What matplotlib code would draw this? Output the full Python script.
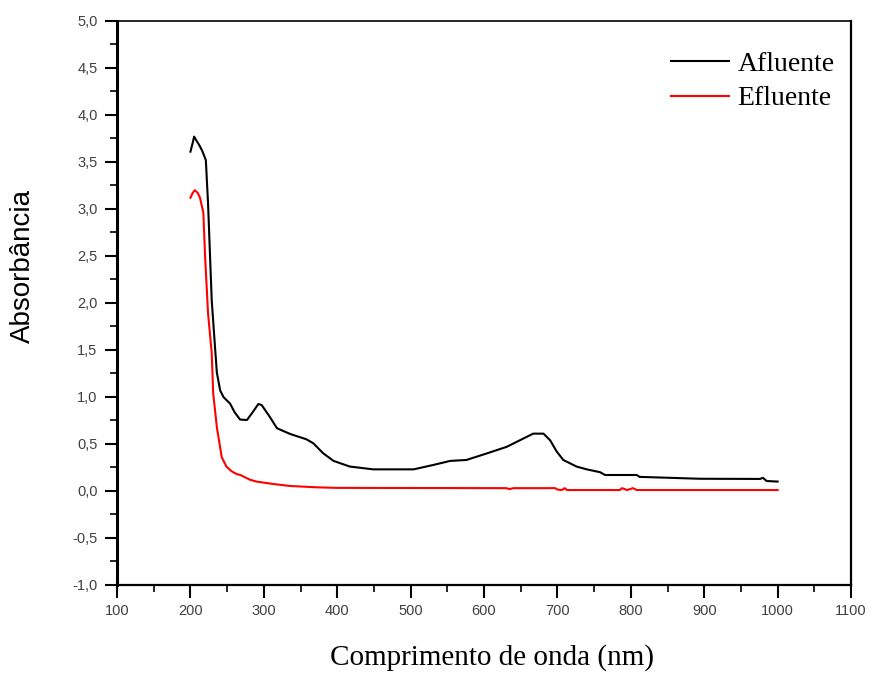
import matplotlib
matplotlib.use("Agg")
import matplotlib.pyplot as plt
from matplotlib.ticker import MultipleLocator, FuncFormatter

# Afluente (inlet) spectrum
wl_af = [200, 203, 205, 208, 212, 216, 221, 224, 229, 233.5, 236, 240.5, 245, 250, 254,
         260, 267.6, 277, 285, 292.5, 297, 308, 318, 336, 358, 367.5, 381, 395, 417,
         449, 504, 531, 554, 576, 604, 631, 649, 667, 681, 690, 699, 708, 726, 740,
         758, 765, 808, 812, 894, 976, 980, 985, 1000]
abs_af = [3.61, 3.70, 3.77, 3.73, 3.68, 3.62, 3.52, 3.06, 2.03, 1.53, 1.26, 1.07, 1.00,
          0.96, 0.93, 0.84, 0.76, 0.755, 0.84, 0.925, 0.915, 0.79, 0.667, 0.606, 0.55,
          0.507, 0.40, 0.32, 0.26, 0.23, 0.23, 0.277, 0.32, 0.33, 0.40, 0.47, 0.54,
          0.61, 0.61, 0.54, 0.42, 0.33, 0.26, 0.23, 0.20, 0.17, 0.17, 0.15, 0.13,
          0.128, 0.14, 0.106, 0.10]

# Efluente (outlet) spectrum
wl_ef = [200, 203, 206, 210, 213, 217.6, 220, 224, 229, 231, 236, 242.6, 249, 256, 263,
         268, 281, 290, 313, 336, 372, 400, 630, 635, 640, 697, 700, 706, 710, 713,
         785, 788, 795, 803, 808, 1000]
abs_ef = [3.12, 3.17, 3.20, 3.17, 3.12, 2.96, 2.49, 1.89, 1.47, 1.04, 0.68, 0.36, 0.26,
          0.21, 0.18, 0.17, 0.12, 0.10, 0.074, 0.053, 0.039, 0.033, 0.03, 0.02, 0.03,
          0.03, 0.015, 0.01, 0.03, 0.01, 0.01, 0.03, 0.01, 0.03, 0.01, 0.01]

series_labels = ["Afluente", "Efluente"]
x_label = "Comprimento de onda (nm)"
y_label = "Absorbância"

fig = plt.figure(figsize=(8.74, 6.73), dpi=100)
ax = fig.add_axes([0.1339, 0.1308, 0.9737 - 0.1339, 0.9688 - 0.1308])

ax.plot(wl_af, abs_af, color="black", lw=1.5, label=series_labels[0])
ax.plot(wl_ef, abs_ef, color="#ff0000", lw=1.5, label=series_labels[1])

ax.set_xlim(100, 1100)
ax.set_ylim(-1.0, 5.0)
ax.xaxis.set_major_locator(MultipleLocator(100))
ax.xaxis.set_minor_locator(MultipleLocator(50))
ax.yaxis.set_major_locator(MultipleLocator(0.5))
ax.yaxis.set_minor_locator(MultipleLocator(0.25))
ax.yaxis.set_major_formatter(FuncFormatter(lambda v, p: f"{v:.1f}".replace(".", ",")))
ax.xaxis.set_major_formatter(FuncFormatter(lambda v, p: f"{int(round(v))}"))

ax.tick_params(which="major", direction="out", length=9, width=1.5,
               labelsize=10.5, labelcolor="#404040", pad=5)
ax.tick_params(which="minor", direction="out", length=5, width=1.2)
for lab in ax.get_xticklabels() + ax.get_yticklabels():
    lab.set_fontfamily("Liberation Sans")

ax.spines["left"].set_linewidth(2.2)
ax.spines["bottom"].set_linewidth(1.6)
ax.spines["top"].set_linewidth(1.2)
ax.spines["right"].set_linewidth(1.6)

ax.set_xlabel(x_label, fontfamily="Liberation Serif", fontsize=21)
ax.xaxis.set_label_coords((492 - 117) / 734, -(658 - 585) / 564, transform=ax.transAxes)
ax.xaxis.label.set_va("center")
ax.set_ylabel(y_label, fontfamily="Liberation Sans", fontsize=20)
ax.yaxis.set_label_coords(-(117 - 23) / 734, (585 - 266) / 564, transform=ax.transAxes)
ax.yaxis.label.set_va("center")

ax.legend(loc="upper right", bbox_to_anchor=(1.012, 0.99), frameon=False,
          prop={"family": "Liberation Serif", "size": 20},
          handlelength=2.1, handletextpad=0.3, labelspacing=0.32)

fig.savefig("out.png", dpi=100)
